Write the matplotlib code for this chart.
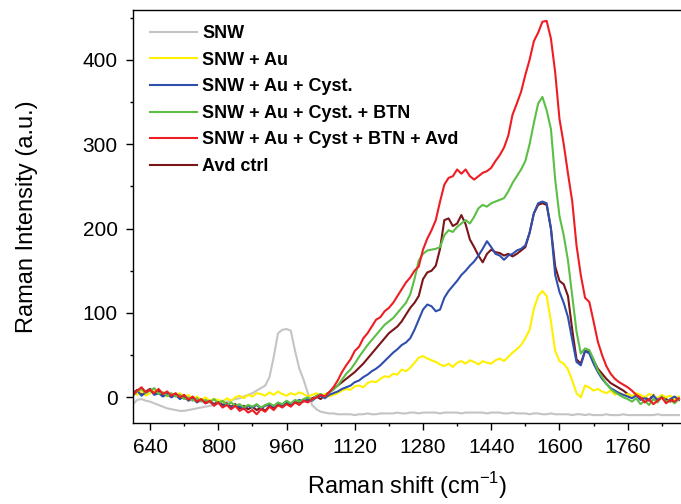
import numpy as np
import matplotlib
matplotlib.use("Agg")
import matplotlib.pyplot as plt
from matplotlib.ticker import MultipleLocator

plt.rcParams['font.family'] = ['Liberation Sans', 'DejaVu Sans']
plt.rcParams['mathtext.fontset'] = 'custom'
plt.rcParams['mathtext.rm'] = 'Liberation Sans'

# wavenumber grid (cm-1), one reading every 10 cm-1
shift = np.arange(600, 1881, 10)

snw = [-8, -3, -2, -4, -5, -7, -9, -11, -13, -14,
       -15, -16, -16, -15, -14, -13, -12, -11, -10, -9,
       -7, -6, -5, -4, -2, -1, 1, 3, 5, 8,
       11, 14, 24, 48, 76, 80, 81, 79, 55, 34,
       21, 5, -9, -14, -17, -18, -19, -19, -20, -20,
       -20, -20, -21, -20, -20, -19, -20, -20, -19, -19,
       -19, -19, -18, -19, -19, -18, -18, -19, -18, -18,
       -18, -18, -19, -18, -18, -18, -18, -19, -18, -18,
       -18, -18, -18, -19, -18, -18, -18, -19, -19, -18,
       -19, -19, -19, -20, -19, -19, -20, -20, -19, -20,
       -20, -20, -20, -21, -20, -20, -21, -20, -21, -21,
       -21, -20, -21, -21, -21, -20, -21, -21, -21, -21,
       -21, -21, -21, -20, -21, -21, -21, -21, -21]

snw_au = [6, 3, 8, 2, 5, 9, 4, 6, 1, 4,
          2, 5, 0, 3, -2, 1, -3, 0, -4, -2,
          -3, -5, -1, -4, 0, 2, -1, 3, 1, 5,
          4, 2, 6, 3, 7, 4, 2, 5, 3, 6,
          4, 1, 3, 5, 2, 4, 1, 3, 5, 8,
          10, 9, 13, 14, 12, 17, 19, 18, 22, 25,
          24, 28, 27, 33, 31, 35, 41, 47, 49, 46,
          44, 42, 39, 37, 40, 36, 41, 43, 40, 44,
          42, 39, 43, 41, 40, 44, 46, 43, 48, 53,
          57, 62, 70, 80, 105, 120, 126, 120, 90, 55,
          43, 40, 33, 20, 5, 0, 14, 12, 8, 10,
          7, 5, 8, 3, 6, 2, 4, 1, 5, 3,
          0, 4, 2, -1, 3, 0, 2, -2, 1]

snw_au_cyst = [4, 8, 2, 6, 9, 3, 5, 1, 4, 0,
               3, -2, 1, -4, -1, -6, -3, -7, -5, -9,
               -6, -10, -8, -12, -9, -11, -14, -10, -12, -9,
               -13, -10, -8, -11, -7, -9, -5, -8, -6, -3,
               -5, -2, -4, 0, 2, -1, 3, 5, 7, 10,
               12, 14, 18, 20, 24, 27, 31, 34, 38, 43,
               48, 53, 57, 62, 65, 70, 80, 92, 104, 110,
               108, 102, 104, 118, 126, 132, 138, 145, 150, 156,
               161, 168, 176, 185, 178, 170, 168, 163, 168, 170,
               174, 176, 180, 195, 218, 230, 232, 230, 200, 145,
               125, 112, 95, 68, 42, 38, 55, 52, 40, 30,
               22, 16, 11, 8, 5, 3, 1, -1, 2, -3,
               -1, -4, 2, -3, 0, -5, -2, 1, -3]

snw_au_cyst_btn = [2, 7, 10, 5, 8, 11, 4, 6, 2, 5,
                   1, 3, -2, 0, -4, -1, -5, -3, -6, -2,
                   -7, -4, -9, -6, -10, -8, -12, -9, -11, -8,
                   -12, -9, -7, -10, -6, -8, -4, -7, -3, -5,
                   -2, 0, -3, 2, 4, 1, 6, 9, 14, 21,
                   28, 33, 40, 48, 55, 62, 68, 74, 80, 86,
                   90, 94, 100, 106, 112, 122, 140, 162, 170, 174,
                   175, 176, 178, 192, 198, 196, 202, 206, 210, 206,
                   214, 224, 228, 226, 230, 232, 234, 236, 244, 254,
                   262, 270, 280, 300, 325, 348, 356, 340, 318, 258,
                   215, 192, 162, 120, 78, 52, 58, 56, 45, 32,
                   24, 16, 10, 6, 3, 0, -2, -5, -1, -8,
                   -4, -9, -2, -6, 1, -5, -3, -7, -2]

snw_au_cyst_btn_avd = [3, 8, 12, 6, 9, 5, 10, 4, 7, 2,
                       5, 0, 3, -3, 1, -5, -2, -7, -4, -10,
                       -6, -12, -9, -14, -10, -16, -13, -18, -15, -20,
                       -14, -17, -11, -15, -9, -12, -8, -11, -6, -9,
                       -4, -6, -2, 0, 3, 1, 6, 12, 20, 30,
                       38, 45, 55, 60, 70, 76, 84, 92, 95, 102,
                       106, 112, 120, 128, 136, 142, 150, 155, 175, 188,
                       198, 210, 232, 252, 260, 262, 270, 265, 270, 262,
                       258, 262, 266, 268, 272, 280, 287, 296, 310, 335,
                       348, 362, 382, 400, 422, 432, 445, 446, 425, 385,
                       330, 300, 265, 232, 180, 145, 118, 113, 90, 66,
                       50, 37, 28, 22, 18, 15, 12, 8, 3, 0,
                       -6, -2, -8, -4, 0, -7, -3, -5, -1]

avd_ctrl = [5, 9, 3, 7, 10, 4, 8, 2, 5, 1,
            4, -1, 2, -3, 0, -5, -2, -6, -4, -8,
            -5, -9, -7, -11, -8, -13, -10, -14, -11, -15,
            -12, -16, -10, -13, -9, -11, -7, -9, -5, -6,
            -3, -5, -1, 1, -2, 3, 6, 10, 14, 18,
            22, 26, 30, 35, 40, 46, 52, 58, 64, 70,
            76, 80, 84, 90, 98, 106, 112, 120, 140, 148,
            150, 156, 176, 210, 212, 203, 206, 216, 205, 187,
            178, 168, 160, 170, 175, 172, 171, 168, 170, 167,
            170, 174, 178, 195, 218, 228, 230, 228, 200, 155,
            138, 134, 120, 80, 45, 40, 55, 54, 44, 34,
            28, 22, 17, 14, 11, 8, 4, 1, 3, -2,
            0, -3, 3, -4, 1, -2, -5, 0, -3]

labels = ['SNW', 'SNW + Au', 'SNW + Au + Cyst.', 'SNW + Au + Cyst. + BTN',
          'SNW + Au + Cyst + BTN + Avd', 'Avd ctrl']
series = [snw, snw_au, snw_au_cyst, snw_au_cyst_btn, snw_au_cyst_btn_avd, avd_ctrl]
colors = ['#c4c4c4', '#fff000', '#2f4fae', '#5cbf45', '#ee1d23', '#7a1518']
# drawing order: avd ctrl under the others except gray
order = [0, 5, 1, 2, 3, 4]

fig = plt.figure(figsize=(6.81, 5.04), dpi=100)
ax = fig.add_axes([0.1953, 0.1613, 0.8047, 0.819])

lines = {}
for i in order:
    ln, = ax.plot(shift, series[i], color=colors[i], lw=1.5, label=labels[i])
    lines[i] = ln

ax.set_xlim(600, 1885)
ax.set_ylim(-30, 459)
ax.set_xticks([640, 800, 960, 1120, 1280, 1440, 1600, 1760])
ax.xaxis.set_minor_locator(MultipleLocator(80))
ax.yaxis.set_major_locator(MultipleLocator(100))
ax.yaxis.set_minor_locator(MultipleLocator(50))

ax.spines['right'].set_visible(False)
for s in ['left', 'bottom', 'top']:
    ax.spines[s].set_linewidth(1.0)
ax.tick_params(which='major', direction='out', length=5, width=1.0, labelsize=15, pad=6)
ax.tick_params(which='minor', direction='out', length=2.5, width=1.0)
ax.tick_params(top=False, right=False, which='both')

ax.set_xlabel('Raman shift (cm$^{-1}$)', fontsize=17)
ax.set_ylabel('Raman Intensity (a.u.)', fontsize=17)
ax.xaxis.set_label_coords(0.5, -0.115)
ax.yaxis.set_label_coords(-0.173, 0.5)

leg = ax.legend([lines[i] for i in range(6)], labels, loc='upper left',
                bbox_to_anchor=(0.031, 0.963), frameon=False, borderpad=0,
                borderaxespad=0, handlelength=2.6, handletextpad=0.3,
                labelspacing=0.53, prop={'weight': 'bold', 'size': 13})

fig.savefig('out.png', dpi=100)
